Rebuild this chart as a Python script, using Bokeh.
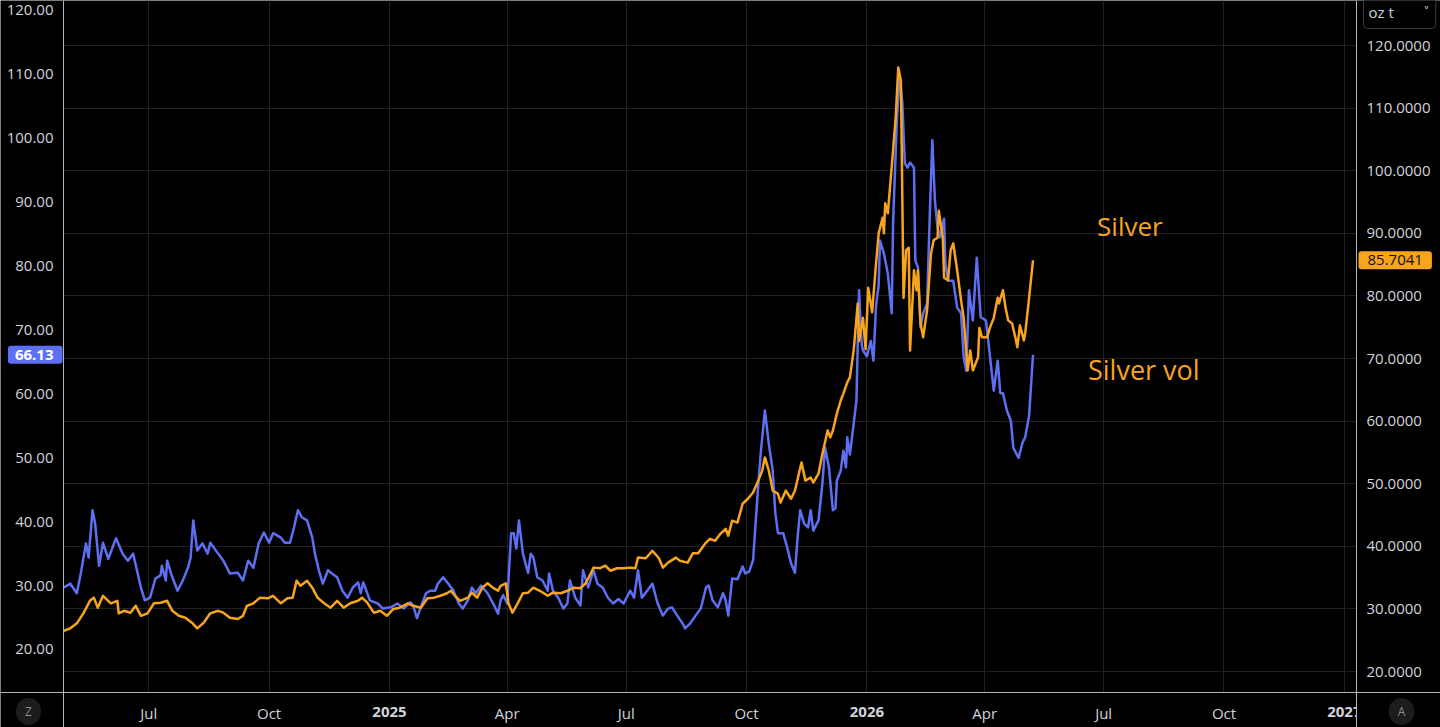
import pandas as pd
from bokeh.plotting import figure
from bokeh.models import Range1d, LinearAxis, FixedTicker, Label, NumeralTickFormatter
from bokeh.embed import file_html
from bokeh.resources import INLINE

# ---------------- data ----------------
BASE_DATE = "2025-01-01"   # day 0 of the day offsets below

tick_dates = ["2024-07-01", "2024-10-01", "2025-01-01", "2025-04-01", "2025-07-01",
              "2025-10-01", "2026-01-01", "2026-04-01", "2026-07-01", "2026-10-01",
              "2027-01-01"]
tick_labels = ["Jul", "Oct", "2025", "Apr", "Jul", "Oct", "2026", "Apr", "Jul", "Oct", "2027"]

left_ticks = [20, 30, 40, 50, 60, 70, 80, 90, 100, 110, 120]
right_ticks = [20, 30, 40, 50, 60, 70, 80, 90, 100, 110, 120]

# Silver volatility (left axis), days since BASE_DATE
vol_days = [-249, -244, -239, -236, -232, -230, -227, -225, -222, -219, -215, -209, -204, -200,
            -196, -190, -187, -183, -179, -175, -174, -171, -170, -166, -162, -158, -154, -152,
            -150, -147, -143, -139, -137, -131, -127, -122, -116, -112, -108, -104, -100, -96,
            -92, -89, -83, -80, -76, -73, -70, -67, -63, -59, -57, -54, -51, -47, -44, -40,
            -36, -32, -28, -24, -22, -20, -15, -9, -5, 1, 6, 11, 16, 18, 21, 25,
            28, 31, 35, 37, 41, 45, 49, 53, 56, 60, 63, 66, 70, 75,
            80, 83, 85, 87, 90, 93, 95, 97, 99, 102, 106, 108, 110, 113,
            117, 121, 122, 125, 129, 133, 136, 138, 142, 146, 148, 152, 156, 159,
            163, 167, 171, 175, 179, 184, 187, 190, 193, 197, 201, 205, 209, 213,
            216, 220, 224, 226, 230, 234, 238, 242, 244, 247, 251, 255, 257, 259,
            262, 266, 270, 272, 275, 278, 280, 282, 284, 287, 290, 293, 295, 297,
            301, 304, 307, 310, 312, 314, 317, 320, 322, 324, 328, 331, 333, 336,
            339, 341, 342, 345, 347, 349, 350, 352, 355, 357, 359, 361, 362, 365,
            368, 370, 372, 374, 375, 378, 381, 384, 385, 388, 390, 392, 394, 396,
            398, 401, 402, 404, 406, 408, 411, 413, 415, 417, 419, 421, 424, 425,
            427, 431, 434, 437, 439, 441, 443, 446, 449, 452, 456, 458, 462, 465,
            467, 469, 472, 475, 477, 481, 484, 486, 489, 492]
vol_values = [29.7, 30.3, 28.8, 31.9, 36.6, 34.4, 41.8, 39.7, 33.1, 36.7, 34.2, 37.4, 35.0, 33.9,
              35.0, 29.7, 27.7, 28.1, 31.1, 31.6, 33.1, 30.8, 33.9, 31.3, 29.2, 30.8, 32.8, 34.4,
              40.2, 35.5, 36.6, 35.0, 36.7, 35.0, 33.9, 31.9, 32.0, 30.8, 33.9, 32.8, 36.6, 38.3,
              36.7, 38.2, 37.5, 36.7, 36.7, 39.1, 41.8, 40.7, 40.2, 37.5, 35.0, 32.4, 30.3, 32.4, 31.9, 31.3,
              29.2, 28.1, 29.7, 30.5, 28.8, 30.5, 27.7, 27.2, 26.4, 26.6, 27.2, 26.4, 27.4, 26.9, 24.9, 27.2,
              28.8, 29.2, 29.2, 30.3, 31.3, 30.3, 29.2, 27.2, 26.4, 27.7, 29.7, 28.8, 30.0, 28.8,
              26.9, 25.6, 27.7, 28.5, 27.2, 38.2, 38.2, 35.8, 40.2, 35.0, 32.0, 35.0, 34.4, 31.3,
              30.8, 29.2, 31.9, 29.2, 28.1, 26.4, 27.2, 30.8, 28.1, 26.9, 32.4, 29.7, 32.4, 30.3,
              29.7, 28.1, 27.2, 27.9, 27.2, 29.2, 28.1, 32.4, 28.1, 29.2, 30.3, 27.2, 25.3, 26.4,
              26.6, 25.3, 24.1, 23.3, 24.1, 25.3, 26.4, 29.7, 30.0, 27.7, 26.6, 28.8, 27.7, 25.3,
              31.1, 31.0, 33.0, 31.9, 32.2, 34.0, 40.0, 46.0, 51.1, 57.4, 52.2, 48.0, 41.3, 38.2,
              38.2, 36.0, 33.5, 32.0, 37.5, 41.8, 39.7, 39.1, 41.8, 38.6, 40.2, 46.0, 51.6, 48.5,
              41.8, 42.1, 46.4, 48.0, 51.1, 48.5, 53.2, 50.5, 55.5, 59.0, 76.2, 67.8, 66.8, 65.9,
              68.3, 65.2, 73.8, 77.0, 84.0, 82.0, 78.8, 72.6, 86.7, 103.3, 109.5, 105.9, 96.1, 95.4,
              96.2, 95.4, 80.9, 79.8, 70.4, 72.6, 74.1, 87.6, 99.7, 90.3, 86.0, 84.5, 87.4, 80.4,
              77.7, 77.7, 73.5, 72.6, 65.7, 63.6, 76.2, 71.5, 81.3, 72.0, 71.5, 67.9, 60.5, 65.2,
              60.1, 60.1, 57.4, 55.8, 51.5, 50.0, 52.4, 53.2, 56.6, 66.13]

# Silver price (right axis, USD per oz t), days since BASE_DATE
price_days = [-249, -244, -239, -234, -229, -226, -223, -219, -213, -208, -207, -203, -198, -194,
              -190, -185, -180, -175, -170, -166, -161, -156, -151, -147, -142, -137, -131, -127,
              -122, -116, -112, -109, -104, -99, -93, -89, -83, -78, -74, -71, -68, -63,
              -59, -55, -50, -45, -40, -35, -30, -24, -21, -17, -12, -7, -2, 3,
              8, 14, 18, 24, 29, 34, 39, 44, 47, 50, 54, 60, 63, 67,
              71, 75, 79, 83, 85, 89, 91, 94, 98, 102, 106, 110, 115, 121,
              125, 131, 136, 141, 146, 150, 154, 156, 161, 165, 169, 174, 179, 184,
              188, 190, 196, 201, 206, 209, 213, 219, 222, 228, 232, 236, 242, 245,
              249, 253, 257, 259, 262, 266, 270, 274, 278, 282, 285, 287, 290, 293,
              297, 299, 303, 307, 310, 313, 315, 318, 322, 324, 328, 331, 335, 337,
              339, 342, 345, 347, 350, 352, 355, 358, 359, 362, 364, 366, 369, 372,
              374, 377, 378, 379, 381, 385, 387, 389, 391, 393, 395, 397, 398, 401,
              403, 404, 406, 408, 411, 414, 416, 419, 420, 423, 424, 427, 429, 431,
              434, 437, 439, 442, 444, 446, 450, 451, 453, 457, 459, 462, 465, 466,
              469, 471, 473, 476, 479, 480, 482, 485, 486, 489, 492]
price_values = [26.5, 26.9, 27.7, 29.3, 31.3, 31.8, 30.2, 32.1, 30.9, 31.3, 29.3, 29.7, 29.4, 30.5,
                28.9, 29.3, 30.9, 31.0, 31.3, 29.7, 28.9, 28.6, 27.8, 26.9, 27.8, 29.3, 29.7, 29.4,
                28.6, 28.4, 28.9, 30.5, 30.9, 31.8, 31.7, 32.1, 30.9, 31.7, 31.8, 34.5, 33.7, 34.5,
                33.4, 31.8, 30.9, 30.2, 31.3, 30.2, 30.9, 31.3, 31.8, 31.0, 29.4, 29.7, 28.9, 30.0,
                30.2, 30.9, 30.5, 30.2, 31.7, 31.8, 32.1, 32.5, 32.9, 32.1, 31.3, 31.8, 32.6, 31.8,
                33.4, 34.1, 33.4, 32.9, 33.7, 34.1, 30.9, 29.4, 30.9, 32.5, 32.6, 33.4, 32.9, 32.1,
                32.6, 32.5, 32.9, 33.4, 33.3, 34.1, 35.7, 36.6, 36.5, 36.9, 36.1, 36.5, 36.5, 36.6,
                36.5, 38.2, 38.1, 39.3, 38.1, 36.6, 37.4, 38.2, 37.7, 37.4, 38.9, 38.9, 40.6, 41.2,
                40.9, 42.0, 42.8, 41.7, 44.1, 43.8, 46.8, 47.6, 48.6, 50.5, 52.1, 54.2, 52.1, 48.9,
                48.4, 47.0, 48.9, 47.6, 48.9, 51.6, 53.4, 50.5, 51.0, 50.2, 51.6, 54.8, 58.5, 57.4,
                58.5, 61.2, 63.3, 64.4, 66.2, 67.0, 71.5, 78.8, 72.8, 76.5, 71.5, 81.3, 77.4, 85.2,
                90.0, 92.5, 90.0, 94.8, 93.2, 103.2, 108.5, 116.5, 114.4, 79.7, 87.3, 87.7, 71.3, 84.1,
                80.9, 84.1, 75.6, 73.4, 77.7, 86.8, 88.9, 89.3, 93.6, 89.3, 82.9, 82.5, 87.3, 88.4,
                84.1, 79.3, 76.5, 68.1, 71.3, 68.1, 70.2, 74.9, 73.4, 73.4, 74.9, 76.5, 79.7, 78.8,
                80.9, 78.1, 76.1, 75.6, 72.9, 71.8, 75.3, 72.9, 74.0, 79.7, 85.7041]

series_labels = ["Silver", "Silver vol"]
unit_label = "oz t"

assert len(vol_days) == len(vol_values)
assert len(price_days) == len(price_values)

# ---------------- layout / styling ----------------
BG = "#000000"
GRID = "#202020"
AXIS = "#b2b5be"
TXT = "#d1d4dc"
BLUE = "#5d6ff2"
ORANGE = "#f8a41c"
BTN = "#1c1c1c"
FONT = "Open Sans"
FS = "15px"

W, H = 1440, 727
BL, BR, BT, BB = 63, 84, 0, 35          # axis strips around the chart area (px)
FW, FH = W - BL - BR, H - BT - BB       # chart area size in px
X0, X1 = -249.2, 739.3                  # visible day range of the chart area
YL0, YL1 = 13.27, 121.56                # left (volatility) range of the chart area
YR0, YR1 = 16.65, 127.2                 # right (price) range of the chart area

KX = FW / (X1 - X0)                     # px per day
KL = FH / (YL1 - YL0)                   # px per left unit
KR = FH / (YR1 - YR0)                   # px per right unit

# the whole canvas is the frame; axes are pinned at the chart-area edges
CX0, CX1 = X0 - BL / KX, X1 + BR / KX
CL0, CL1 = YL0 - BB / KL, YL1 + BT / KL
CR0, CR1 = YR0 - BB / KR, YR1 + BT / KR


def cx(px):
    """day value at canvas x pixel"""
    return CX0 + px / KX


def cy(py):
    """left-axis value at canvas y pixel (from top)"""
    return CL1 - py / KL


base = pd.Timestamp(BASE_DATE)
tick_days = [int((pd.Timestamp(d) - base).days) for d in tick_dates]

p = figure(width=W, height=H, x_axis_location=None, y_axis_location=None,
           x_range=Range1d(CX0, CX1), y_range=Range1d(CL0, CL1),
           output_backend="svg", toolbar_location=None,
           background_fill_color=BG, border_fill_color=BG,
           min_border=0, min_border_left=0, min_border_right=0,
           min_border_top=0, min_border_bottom=0)
p.outline_line_color = None
p.extra_y_ranges = {"price": Range1d(CR0, CR1)}


def style_axis(ax, standoff):
    ax.axis_line_color = AXIS
    ax.axis_line_width = 1
    ax.major_tick_line_color = None
    ax.minor_tick_line_color = None
    ax.major_tick_out = 0
    ax.major_tick_in = 0
    ax.major_label_standoff = standoff
    ax.major_label_text_color = TXT
    ax.major_label_text_font = FONT
    ax.major_label_text_font_size = FS


# left axis (volatility)
ly = LinearAxis(ticker=FixedTicker(ticks=left_ticks),
                formatter=NumeralTickFormatter(format="0.00"), fixed_location=X0)
style_axis(ly, 10)
p.add_layout(ly, "left")

# right axis (price)
ry = LinearAxis(y_range_name="price", ticker=FixedTicker(ticks=right_ticks),
                formatter=NumeralTickFormatter(format="0.0000"), fixed_location=X1)
style_axis(ry, 10)
p.add_layout(ry, "right")

# bottom axis (dates); year labels are drawn bold separately
bx = LinearAxis(ticker=FixedTicker(ticks=tick_days), fixed_location=YL0)
bx.major_label_overrides = {d: ("" if lab.isdigit() else lab) for d, lab in zip(tick_days, tick_labels)}
style_axis(bx, 10)
p.add_layout(bx, "below")

# grids, kept inside the chart area
p.xgrid.ticker = FixedTicker(ticks=tick_days)
p.xgrid.grid_line_color = GRID
p.ygrid.ticker = FixedTicker(ticks=right_ticks)
p.ygrid.y_range_name = "price"
p.ygrid.grid_line_color = GRID

has_cross = "cross_bounds" in p.xgrid.properties()
if has_cross:
    p.xgrid.cross_bounds = (YL0, CL1)
    p.ygrid.cross_bounds = (X0, X1)
    # only the right strip is masked, so the last date label is cut at the price axis
    p.quad(left=[X1], right=[CX1], bottom=[CL0], top=[CL1], fill_color=BG, line_color=None)
    year_level = "image"
else:
    p.quad(left=[CX0, X1, CX0], right=[X0, CX1, CX1], bottom=[CL0, CL0, CL0],
           top=[CL1, CL1, YL0], fill_color=BG, line_color=None)
    year_level = "annotation"

for d, lab in zip(tick_days, tick_labels):
    if lab.isdigit():
        p.add_layout(Label(x=d, y=cy(711), text=lab, level=year_level,
                           text_align="center", text_baseline="middle", text_color=TXT,
                           text_font=FONT, text_font_size=FS, text_font_style="bold"))

# lines
p.line(vol_days, vol_values, line_color=BLUE, line_width=2.5, line_join="round")
p.line(price_days, price_values, y_range_name="price", line_color=ORANGE, line_width=2.5,
       line_join="round")

# series captions
p.add_layout(Label(x=541, y=91.1, y_range_name="price", text=series_labels[0],
                   text_align="left", text_baseline="middle", text_color=ORANGE,
                   text_font=FONT, text_font_size="26px"))
p.add_layout(Label(x=534, y=68.2, y_range_name="price", text=series_labels[1],
                   text_align="left", text_baseline="middle", text_color=ORANGE,
                   text_font=FONT, text_font_size="27px"))


def pad(l, r, t, b, fallback):
    try:
        Label(padding=dict(left=l, right=r, top=t, bottom=b))
        return dict(left=l, right=r, top=t, bottom=b)
    except Exception:
        return fallback


# last-value badges on the axes
p.add_layout(Label(x=cx(62), y=vol_values[-1],
                   text=f"{vol_values[-1]:.2f}", text_align="right", text_baseline="middle",
                   text_color="white", text_font=FONT, text_font_size=FS,
                   text_font_style="bold", background_fill_color=BLUE,
                   padding=pad(7, 9, 4, 4, 4), border_radius=3))
p.add_layout(Label(x=cx(1358), y=price_values[-1], y_range_name="price",
                   text=f"{price_values[-1]:.4f}",
                   text_align="left", text_baseline="middle", text_color="#111111",
                   text_font=FONT, text_font_size=FS, background_fill_color=ORANGE,
                   padding=pad(9, 9, 4, 4, 4), border_radius=3))

# unit selector and corner buttons
p.add_layout(Label(x=cx(1363), y=cy(11),
                   text=unit_label, text_align="left", text_baseline="middle",
                   text_color=TXT, text_font=FONT, text_font_size="15px",
                   border_line_color="#3a3d45", background_fill_color=BG,
                   padding=pad(5, 42, 7, 7, 5), border_radius=4))
p.add_layout(Label(x=cx(1426), y=cy(11), text="\u02c5",
                   text_align="center", text_baseline="middle",
                   text_color=TXT, text_font="DejaVu Sans", text_font_size="12px"))
p.add_layout(Label(x=cx(28), y=cy(711), text="Z",
                   text_align="center", text_baseline="middle", text_color="#8a8a8a",
                   text_font=FONT, text_font_size="12px", background_fill_color=BTN,
                   padding=pad(9, 9, 5, 5, 6), border_radius=13))
p.add_layout(Label(x=cx(1401), y=cy(711), text="A",
                   text_align="center", text_baseline="middle", text_color="#8a8a8a",
                   text_font=FONT, text_font_size="12px", background_fill_color=BTN,
                   padding=pad(9, 9, 5, 5, 6), border_radius=13))

open("out.html", "w").write(file_html(p, INLINE))
